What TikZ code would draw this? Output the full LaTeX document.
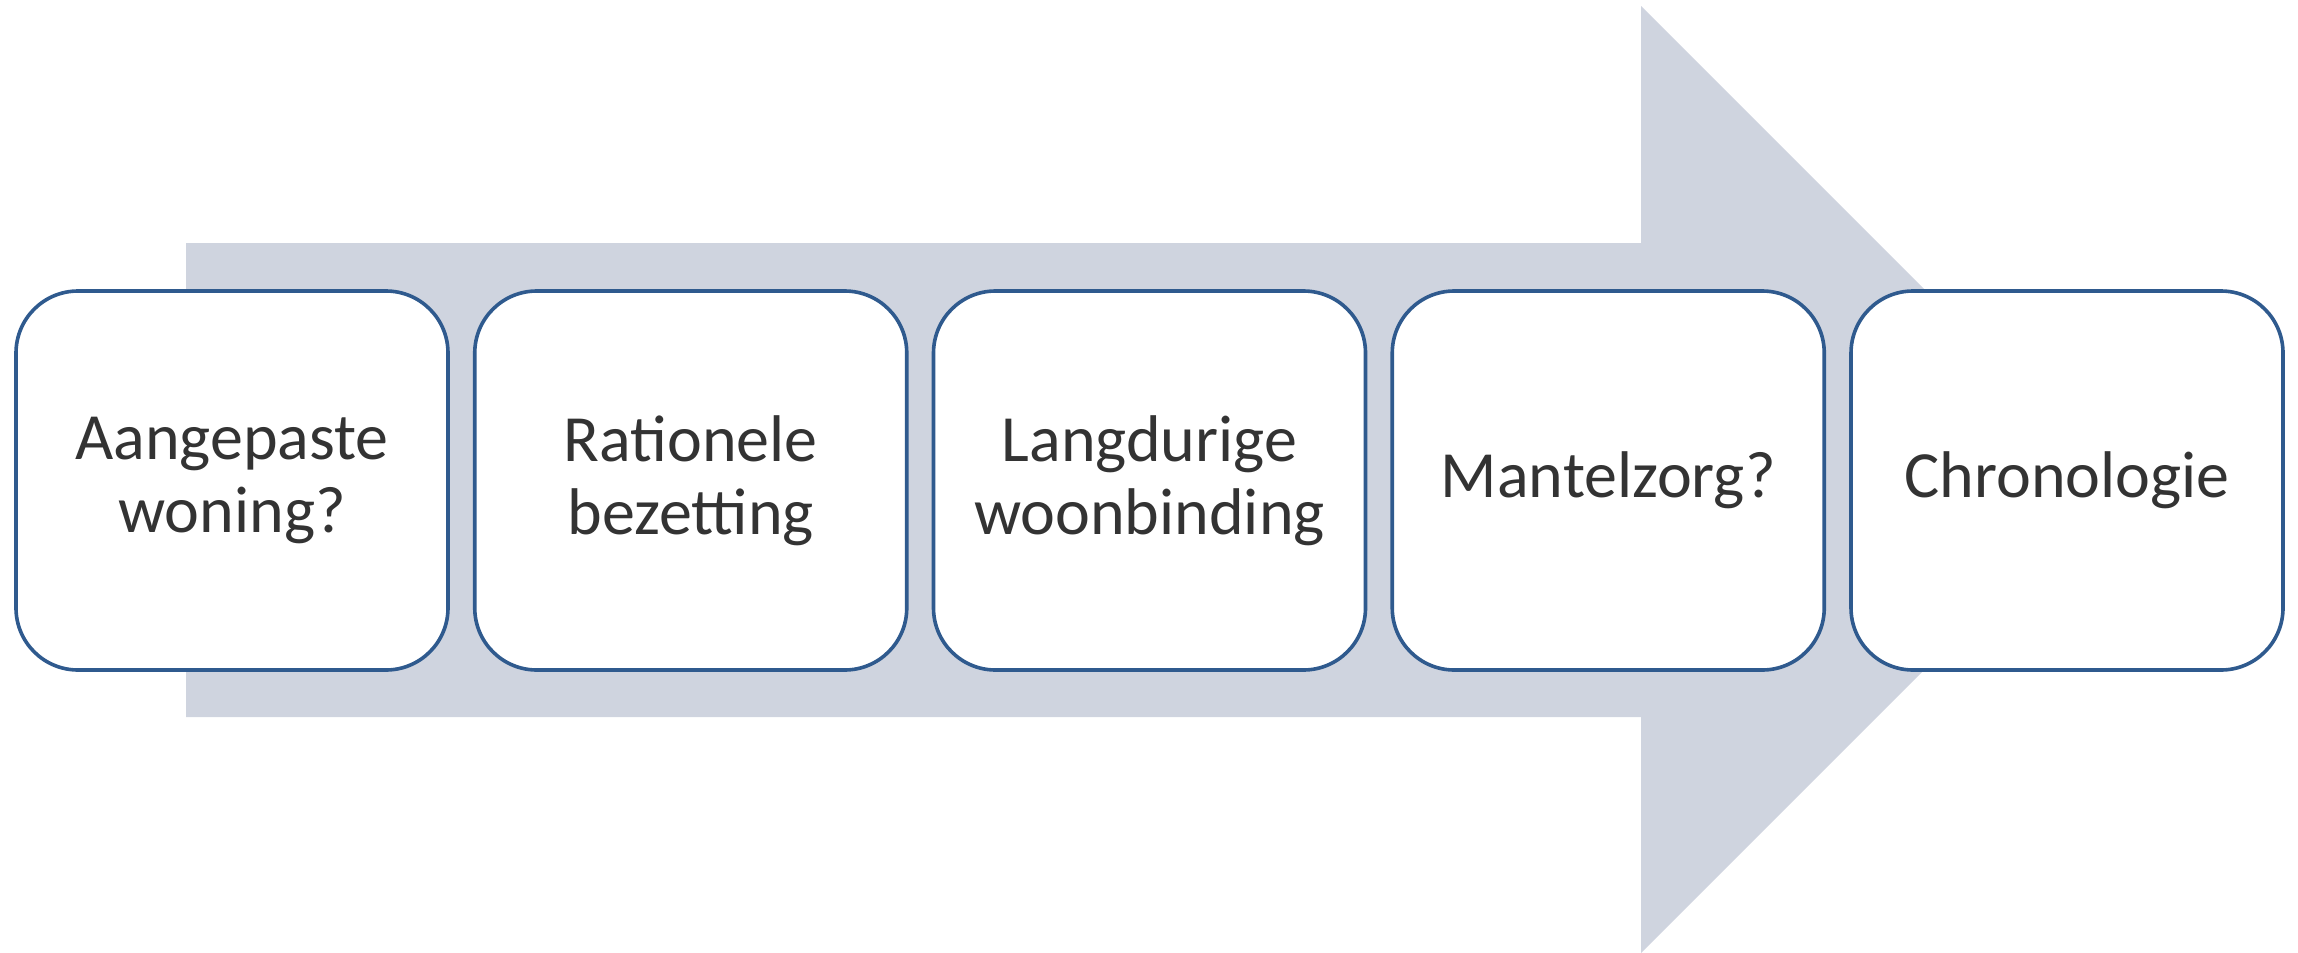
\documentclass[tikz,border=0pt]{standalone}
\usepackage{fontspec}
\setmainfont{Carlito}
\definecolor{arrowfill}{HTML}{CFD4DF}
\definecolor{boxline}{HTML}{2F5A8E}
\definecolor{txt}{HTML}{333333}
\begin{document}
\begin{tikzpicture}[x=0.5pt,y=-0.5pt,
  stepbox/.style={draw=boxline, line width=1.8pt, fill=white, rectangle,
    rounded corners=31pt, minimum width=216pt, minimum height=189.5pt,
    align=center, text=txt, font=\fontsize{33}{36.5}\selectfont, inner sep=0pt}]
\useasboundingbox (0,0) rectangle (2298,953);
\fill[arrowfill] (186,243) -- (1641,243) -- (1641,6) -- (2114.5,479.5) -- (1641,953) -- (1641,717) -- (186,717) -- cycle;
\node[stepbox] (b1) at (232,480.5) {Aangepaste\\woning?};
\node[stepbox] (b2) at (690.75,480.5) {Rationele\\bezetting};
\node[stepbox] (b3) at (1149.5,480.5) {Langdurige\\woonbinding};
\node[stepbox] (b4) at (1608.25,480.5) {Mantelzorg?};
\node[stepbox] (b5) at (2067,480.5) {Chronologie};
\end{tikzpicture}
\end{document}
